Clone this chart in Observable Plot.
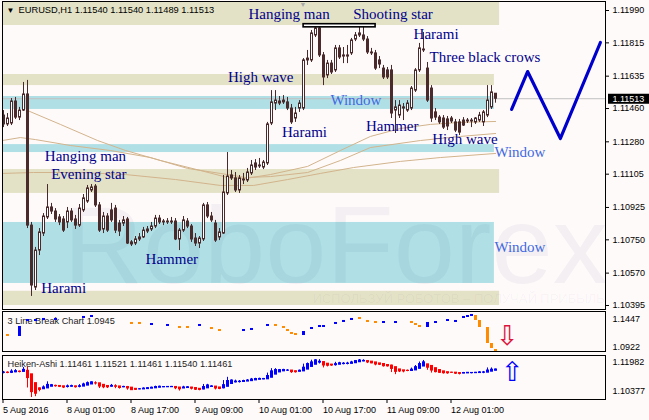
<!DOCTYPE html>
<html><head><meta charset="utf-8">
<script src="https://cdn.jsdelivr.net/npm/d3@7"></script>
<script src="https://cdn.jsdelivr.net/npm/@observablehq/plot@0.6"></script>
<style>
html,body{margin:0;padding:0;background:#FFFAFA;}
#chart{position:relative;width:649px;height:420px;overflow:hidden;background:#FFFAFA;}
#chart svg{position:absolute;left:0;}
</style></head><body><div id="chart"></div>
<script>
// ---------- DATA ----------
const open = [1.11422,1.11374,1.11379,1.11498,1.11411,1.11449,1.11536,1.10827,1.10492,1.10692,1.10784,1.10871,1.10925,1.10903,1.10871,1.10860,1.10844,1.10903,1.10860,1.10827,1.10909,1.10957,1.11017,1.11038,1.10936,1.10806,1.10876,1.10909,1.10919,1.10838,1.10838,1.10860,1.10736,1.10730,1.10752,1.10763,1.10795,1.10806,1.10822,1.10865,1.10844,1.10849,1.10844,1.10849,1.10752,1.10800,1.10849,1.10822,1.10757,1.10730,1.10752,1.10936,1.10876,1.10838,1.10763,1.10784,1.11001,1.11098,1.11082,1.11017,1.11071,1.11071,1.11109,1.11163,1.11147,1.11141,1.11163,1.11379,1.11487,1.11487,1.11503,1.11493,1.11460,1.11406,1.11460,1.11460,1.11720,1.11720,1.11855,1.11893,1.11747,1.11639,1.11703,1.11666,1.11785,1.11741,1.11741,1.11758,1.11833,1.11855,1.11855,1.11833,1.11763,1.11758,1.11720,1.11676,1.11666,1.11666,1.11449,1.11422,1.11466,1.11449,1.11460,1.11557,1.11666,1.11779,1.11676,1.11568,1.11439,1.11411,1.11406,1.11401,1.11406,1.11385,1.11385,1.11395,1.11395,1.11395,1.11385,1.11395,1.11385,1.11422,1.11466,1.11540];
const high = [1.11449,1.11433,1.11514,1.11520,1.11466,1.11601,1.11612,1.10844,1.10709,1.10811,1.10892,1.11049,1.10947,1.10919,1.10887,1.10876,1.10925,1.10919,1.10882,1.10941,1.10995,1.11044,1.11049,1.11049,1.10952,1.10898,1.10892,1.10947,1.10936,1.10855,1.10876,1.10871,1.10746,1.10768,1.10784,1.10817,1.10822,1.10844,1.10882,1.10882,1.10860,1.10865,1.10871,1.10865,1.10811,1.10876,1.10865,1.10833,1.10784,1.10768,1.10947,1.10952,1.10898,1.10855,1.10811,1.11098,1.11222,1.11125,1.11114,1.11098,1.11109,1.11136,1.11179,1.11184,1.11190,1.11179,1.11385,1.11557,1.11557,1.11525,1.11530,1.11520,1.11482,1.11466,1.11503,1.11730,1.11774,1.11882,1.11903,1.11903,1.11763,1.11720,1.11720,1.11801,1.11801,1.11790,1.11801,1.11839,1.11871,1.11909,1.11898,1.11849,1.11785,1.11774,1.11741,1.11693,1.11682,1.11693,1.11503,1.11503,1.11487,1.11503,1.11579,1.11676,1.11812,1.11871,1.11709,1.11584,1.11460,1.11422,1.11422,1.11417,1.11417,1.11401,1.11401,1.11411,1.11406,1.11406,1.11411,1.11439,1.11449,1.11584,1.11584,1.11540];
const low = [1.11357,1.11363,1.11368,1.11401,1.11395,1.11444,1.10811,1.10444,1.10476,1.10665,1.10768,1.10860,1.10887,1.10844,1.10827,1.10790,1.10811,1.10844,1.10806,1.10817,1.10898,1.10947,1.11006,1.10925,1.10790,1.10784,1.10790,1.10844,1.10784,1.10768,1.10822,1.10725,1.10714,1.10719,1.10741,1.10757,1.10784,1.10795,1.10811,1.10833,1.10827,1.10833,1.10833,1.10746,1.10692,1.10790,1.10811,1.10736,1.10714,1.10703,1.10741,1.10865,1.10844,1.10736,1.10746,1.10779,1.10990,1.11071,1.11006,1.11001,1.11049,1.11060,1.11098,1.11125,1.11136,1.11130,1.11152,1.11368,1.11449,1.11476,1.11482,1.11449,1.11374,1.11385,1.11439,1.11449,1.11693,1.11709,1.11844,1.11736,1.11584,1.11622,1.11644,1.11655,1.11725,1.11703,1.11703,1.11747,1.11822,1.11844,1.11822,1.11752,1.11747,1.11666,1.11676,1.11617,1.11617,1.11406,1.11325,1.11406,1.11395,1.11439,1.11449,1.11547,1.11655,1.11763,1.11493,1.11385,1.11395,1.11374,1.11347,1.11341,1.11379,1.11330,1.11314,1.11363,1.11379,1.11357,1.11374,1.11385,1.11363,1.11411,1.11455,1.11489];
const close = [1.11374,1.11406,1.11498,1.11411,1.11449,1.11536,1.10827,1.10503,1.10692,1.10790,1.10876,1.10925,1.10903,1.10860,1.10844,1.10800,1.10903,1.10855,1.10827,1.10919,1.10974,1.11028,1.11033,1.10936,1.10800,1.10876,1.10800,1.10855,1.10800,1.10795,1.10855,1.10730,1.10725,1.10752,1.10763,1.10800,1.10806,1.10822,1.10865,1.10844,1.10849,1.10844,1.10849,1.10752,1.10800,1.10855,1.10822,1.10752,1.10730,1.10757,1.10936,1.10876,1.10855,1.10746,1.10790,1.11006,1.11092,1.11082,1.11017,1.11082,1.11076,1.11114,1.11152,1.11141,1.11152,1.11168,1.11374,1.11493,1.11503,1.11498,1.11493,1.11460,1.11385,1.11433,1.11487,1.11720,1.11730,1.11866,1.11893,1.11747,1.11628,1.11703,1.11655,1.11785,1.11736,1.11747,1.11747,1.11828,1.11855,1.11866,1.11833,1.11763,1.11758,1.11676,1.11698,1.11628,1.11628,1.11433,1.11466,1.11476,1.11460,1.11487,1.11568,1.11666,1.11785,1.11774,1.11503,1.11406,1.11411,1.11385,1.11357,1.11363,1.11390,1.11341,1.11330,1.11368,1.11390,1.11390,1.11406,1.11422,1.11439,1.11503,1.11547,1.11513];

// moving averages [bar, price]
const maFast = [[5.9,1.11449],[14.1,1.11374],[23.4,1.11287],[30.4,1.11233],[39.1,1.11179],[49.1,1.11125],[55.9,1.11087],[60.4,1.11082],[66.6,1.11103],[75.9,1.11147],[84.1,1.11233],[91.6,1.11309],[99.1,1.11352],[106.6,1.11374],[114.1,1.11385],[122.9,1.11390]];
const maMid = [[-0.4,1.11287],[4.1,1.11303],[7.9,1.11292],[16.6,1.11260],[26.6,1.11233],[36.6,1.11195],[45.9,1.11136],[54.1,1.11109],[60.4,1.11087],[66.6,1.11092],[75.9,1.11114],[84.1,1.11179],[91.6,1.11249],[104.1,1.11287],[114.1,1.11309],[122.9,1.11325]];
const maSlow = [[-0.4,1.11109],[7.4,1.11114],[19.1,1.11114],[30.4,1.11103],[42.9,1.11076],[54.1,1.11044],[62.4,1.11044],[70.9,1.11076],[79.1,1.11109],[87.4,1.11141],[99.1,1.11174],[109.1,1.11195],[122.9,1.11217]];

// support / resistance zones
const zoneKind  = ["band","band","band","band","window","window","window"];
const zoneEnd   = [123.9,122.6,123.9,123.9,122.6,122.6,122.6];
const zoneLow   = [1.11909,1.11584,1.11001,1.10395,1.11455,1.11222,1.10514];
const zoneHigh  = [1.12060,1.11644,1.11130,1.10472,1.11525,1.11265,1.10844];
const historyStart = -5;

// pattern labels
const patternText  = ["Hanging man","Shooting star","Harami","Three black crows","High wave","Window","Harami","Hammer","High wave","Window","Hanging man","Evening star","Window","Hammer","Harami"];
const patternBar   = [61.1,87.3,102.4,106.4,56.0,81.6,69.5,90.5,107.05,122.6,10.2,11.8,122.6,35.4,9.3];
const patternPrice = [1.11944,1.11944,1.11836,1.11709,1.11606,1.11480,1.11305,1.11338,1.11268,1.11197,1.11175,1.11080,1.10683,1.10617,1.10461];

// top marker box
const boxBars = [74.9, 92.9];
const boxPrices = [1.11899, 1.11916];

// forecast zigzag
const forecastBar = [126.9,130.9,139.1,149.1];
const forecastPrice = [1.11455,1.11660,1.11298,1.11817];

// 3 Line Break bricks
const lbIndex = [1,4,6,8,10,13,20,22,32,34,37,41,44,46,49,52,54,60,62,66,68,70,71,72,73,75,77,79,80,83,85,87,89,91,93,95,98,102,103,104,106,108,111,113,115,116,117,118,119,121,122,123];
const lbTop = [1.1157,1.1305,1.1434,1.1434,1.1453,1.1453,1.1490,1.1508,1.1379,1.1379,1.1360,1.1342,1.1305,1.1305,1.1342,1.1286,1.1249,1.1249,1.1268,1.1342,1.1342,1.1305,1.1249,1.1194,1.1175,1.1212,1.1286,1.1323,1.1323,1.1379,1.1416,1.1453,1.1471,1.1416,1.1397,1.1397,1.1397,1.1397,1.1360,1.1323,1.1379,1.1397,1.1434,1.1416,1.1490,1.1508,1.1527,1.1508,1.1416,1.1286,1.0990,1.0879];
const lbBottom = [1.1120,1.1120,1.1397,1.1397,1.1416,1.1416,1.1453,1.1471,1.1342,1.1342,1.1323,1.1305,1.1268,1.1268,1.1305,1.1249,1.1212,1.1212,1.1231,1.1305,1.1305,1.1268,1.1212,1.1157,1.1138,1.1138,1.1249,1.1286,1.1286,1.1342,1.1379,1.1416,1.1434,1.1379,1.1360,1.1360,1.1360,1.1360,1.1323,1.1286,1.1286,1.1360,1.1397,1.1379,1.1453,1.1471,1.1490,1.1416,1.1286,1.0990,1.0898,1.0842];
const lbUp = [0,1,1,1,1,1,1,1,0,0,1,1,0,0,1,0,0,1,1,1,0,0,0,0,0,1,1,1,1,1,1,1,0,0,0,1,1,0,0,0,1,1,1,1,1,1,1,0,0,0,0,0];

// signal arrows
const lbArrow = {bar: 125.8, price: 1.1125};
const haArrow = {bar: 127.1, price: 1.11430};

// ticks and labels
const mainTicks = [1.11990,1.11815,1.11635,1.11460,1.11280,1.11105,1.10925,1.10750,1.10570,1.10395];
const lbTicks = [1.1447, 1.0922];
const haTicks = [1.11982, 1.10377];
const xTickBars = [0,16,32,48,64,80,96,112];
const xTickLabels = ["5 Aug 2016","8 Aug 01:00","8 Aug 17:00","9 Aug 09:00","10 Aug 01:00","10 Aug 17:00","11 Aug 09:00","12 Aug 01:00"];
const header = "EURUSD,H1 1.11540 1.11540 1.11489 1.11513";
const lbHeader = "3 Line Break Chart 1.0945";
const haHeader = "Heiken-Ashi 1.11461 1.11521 1.11461 1.11540 1.11461";
const lastClose = close[close.length - 1];

// ---------- TABLES ----------
const candles = open.map((o, i) => ({i, o, h: high[i], l: low[i], c: close[i]}));
const bull = candles.filter(d => d.c >= d.o), bear = candles.filter(d => d.c < d.o);
const zones = zoneKind.map((k, j) => ({k, s: historyStart, e: zoneEnd[j], lo: zoneLow[j], hi: zoneHigh[j]}));
const labels = patternText.map((t, j) => ({t, i: patternBar[j], p: patternPrice[j]}));
const forecast = forecastBar.map((b, j) => ({i: b, p: forecastPrice[j]}));
const bricks = lbIndex.map((b, j) => ({i: b, t: lbTop[j], b: lbBottom[j], up: lbUp[j] === 1}));
const ha = [];
{
  let po, pc;
  candles.forEach((d, k) => {
    const hc = (d.o + d.h + d.l + d.c) / 4;
    const ho = k === 0 ? (d.o + d.c) / 2 : (po + pc) / 2;
    ha.push({i: d.i, ho, hc, hh: Math.max(d.h, ho, hc), hl: Math.min(d.l, ho, hc), up: hc >= ho});
    po = ho; pc = hc;
  });
}

// ---------- STYLE ----------
const dark = "#4a2a2a";
const beige = "#E3E2C6", cyan = "#B0E0E6", ma = "#D2B48C";
const navy = "#00008B", royal = "#4169E1";
const sans = "Liberation Sans, Arial, sans-serif";
const serif = "Liberation Serif, Times New Roman, serif";
const X = {type: "linear", domain: [-0.375, 150.375], axis: null};
const baseStyle = {background: "transparent", fontFamily: sans, fontSize: "9px", color: "#000", overflow: "visible"};

// ---------- MAIN ----------
const main = Plot.plot({
  width: 649, height: 310, marginLeft: 2, marginRight: 44, marginTop: 1, marginBottom: 1,
  style: baseStyle,
  x: X,
  y: {domain: [1.103733, 1.120387], axis: null},
  marks: [
    Plot.rect(zones.filter(d => d.k === "band"), {x1: "s", x2: "e", y1: "lo", y2: "hi", fill: beige, clip: true}),
    Plot.rect(zones.filter(d => d.k === "window"), {x1: "s", x2: "e", y1: "lo", y2: "hi", fill: cyan, clip: true}),
    Plot.text(["RoboForex"], {frameAnchor: "bottom-left", dx: 61, dy: -27, textAnchor: "start", lineAnchor: "bottom", fontSize: 110, fontFamily: sans, fill: "#28336e", fillOpacity: 0.055}),
    Plot.text(["ИСПОЛЬЗУЙ РОБОТОВ – ПОЛУЧАЙ ПРИБЫЛЬ"], {frameAnchor: "bottom-left", dx: 310, dy: -7, textAnchor: "start", lineAnchor: "bottom", fontSize: 13, fontFamily: sans, fill: "#28336e", fillOpacity: 0.045}),
    Plot.line(maSlow, {x: d => d[0], y: d => d[1], stroke: ma, strokeWidth: 1, clip: true}),
    Plot.line(maMid, {x: d => d[0], y: d => d[1], stroke: ma, strokeWidth: 1, clip: true}),
    Plot.line(maFast, {x: d => d[0], y: d => d[1], stroke: ma, strokeWidth: 1, clip: true}),
    Plot.ruleY([lastClose], {stroke: "#C0C0C0"}),
    Plot.rect(candles, {x1: d => d.i - 0.125, x2: d => d.i + 0.125, y1: "l", y2: "h", fill: dark}),
    Plot.rect(bull, {x1: d => d.i - 0.25, x2: d => d.i + 0.25, y1: "o", y2: "c", fill: "white", stroke: dark, strokeWidth: 1}),
    Plot.rect(bear, {x1: d => d.i - 0.25, x2: d => d.i + 0.25, y1: "o", y2: "c", fill: dark, stroke: dark, strokeWidth: 1}),
    Plot.rect([0], {x1: () => boxBars[0], x2: () => boxBars[1], y1: () => boxPrices[0], y2: () => boxPrices[1], fill: "white", stroke: "black", strokeWidth: 1.6}),
    Plot.text(labels.filter(d => d.t !== "Window"), {x: "i", y: "p", text: "t", textAnchor: "start", lineAnchor: "bottom", fontFamily: serif, fontSize: 15, fill: navy}),
    Plot.text(labels.filter(d => d.t === "Window"), {x: "i", y: "p", text: "t", textAnchor: "start", lineAnchor: "bottom", fontFamily: serif, fontSize: 15, fill: royal}),
    Plot.line(forecast, {x: "i", y: "p", stroke: "#0000CD", strokeWidth: 3.2}),
    Plot.frame({stroke: "black"}),
    Plot.axisY(mainTicks, {anchor: "right", tickFormat: d => d.toFixed(5), tickSize: 3, tickPadding: 4, label: null}),
    Plot.ruleY([lastClose], {stroke: "black", strokeWidth: 10, insetLeft: 606, insetRight: -44}),
    Plot.text([lastClose], {y: d => d, frameAnchor: "right", dx: 7, textAnchor: "start", text: d => d.toFixed(5), fill: "white"}),
    Plot.text(["▼"], {frameAnchor: "top-left", dx: 4, dy: 9, textAnchor: "start", lineAnchor: "middle", fontSize: 8, fill: "black"}),
    Plot.text(["▼"], {frameAnchor: "top-left", dx: 297, dy: 3, textAnchor: "start", lineAnchor: "middle", fontSize: 7, fill: "#A9A9A9"}),
    Plot.text([header], {frameAnchor: "top-left", dx: 16, dy: 9, textAnchor: "start", lineAnchor: "middle", fontSize: 9.3, fill: "black"})
  ]
});
main.style.top = "0px";

// ---------- 3 LINE BREAK ----------
const lb = Plot.plot({
  width: 649, height: 42, marginLeft: 2, marginRight: 44, marginTop: 1, marginBottom: 1,
  style: baseStyle,
  x: X,
  y: {domain: [1.08424, 1.15820], axis: null},
  marks: [
    Plot.text([lbHeader], {frameAnchor: "top-left", dx: 5, dy: 9.5, textAnchor: "start", lineAnchor: "middle", fontSize: 9.2, fill: "#222"}),
    Plot.rect(bricks.filter(d => d.up), {x1: d => d.i - 0.375, x2: d => d.i + 0.375, y1: "b", y2: "t", fill: "#0000FF"}),
    Plot.rect(bricks.filter(d => !d.up), {x1: d => d.i - 0.375, x2: d => d.i + 0.375, y1: "b", y2: "t", fill: "#FF8C00"}),
    Plot.text([lbArrow], {x: "bar", y: "price", text: () => "⇩", fontFamily: "DejaVu Sans", fontSize: 27, fill: "#DC143C"}),
    Plot.frame({stroke: "black"}),
    Plot.axisY(lbTicks, {anchor: "right", tickFormat: d => d.toFixed(4), tickSize: 0, tickPadding: 7, label: null})
  ]
});
lb.style.top = "310px";

// ---------- HEIKEN ASHI ----------
const haPlot = Plot.plot({
  width: 649, height: 66, marginLeft: 2, marginRight: 44, marginTop: 1, marginBottom: 21,
  style: baseStyle,
  x: X,
  y: {domain: [1.10367, 1.12063], axis: null},
  marks: [
    Plot.text([haHeader], {frameAnchor: "top-left", dx: 5, dy: 9, textAnchor: "start", lineAnchor: "middle", fontSize: 9.2, fill: "#222"}),
    Plot.rect(ha.filter(d => d.up), {x1: d => d.i - 0.125, x2: d => d.i + 0.125, y1: "hl", y2: "hh", fill: "#0000FF"}),
    Plot.rect(ha.filter(d => !d.up), {x1: d => d.i - 0.125, x2: d => d.i + 0.125, y1: "hl", y2: "hh", fill: "#FF0000"}),
    Plot.rect(ha.filter(d => d.up), {x1: d => d.i - 0.375, x2: d => d.i + 0.375, y1: "ho", y2: "hc", fill: "#0000FF", insetTop: -0.6, insetBottom: -0.6}),
    Plot.rect(ha.filter(d => !d.up), {x1: d => d.i - 0.375, x2: d => d.i + 0.375, y1: "ho", y2: "hc", fill: "#FF0000", insetTop: -0.6, insetBottom: -0.6}),
    Plot.text([haArrow], {x: "bar", y: "price", text: () => "⇧", fontFamily: "DejaVu Sans", fontSize: 27, fill: "#0000FF"}),
    Plot.frame({stroke: "black"}),
    Plot.text([haTicks[0]], {y: d => d, frameAnchor: "right", dx: 7, dy: 4.6, textAnchor: "start", text: d => d.toFixed(5)}),
    Plot.text([haTicks[1]], {y: d => d, frameAnchor: "right", dx: 7, dy: -8, textAnchor: "start", text: d => d.toFixed(5)}),
    Plot.axisX(xTickBars, {anchor: "bottom", tickFormat: d => xTickLabels[xTickBars.indexOf(d)], tickSize: 4, tickPadding: 3, textAnchor: "start", dx: -1, label: null})
  ]
});
haPlot.style.top = "354px";

const root = document.getElementById("chart");
root.append(main, lb, haPlot);
</script>
</body></html>
